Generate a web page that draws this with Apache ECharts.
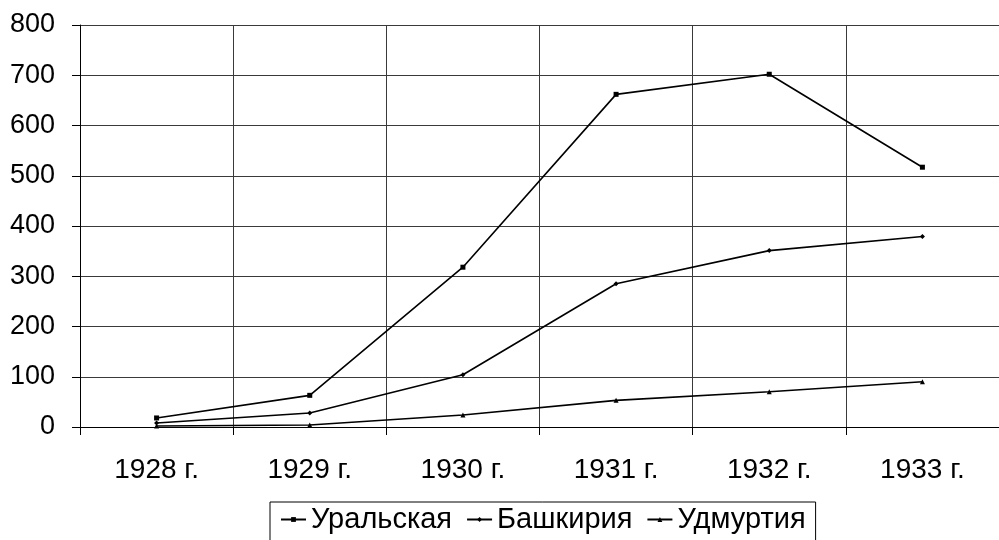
<!DOCTYPE html>
<html><head><meta charset="utf-8">
<script src="https://cdn.jsdelivr.net/npm/echarts@6/dist/echarts.min.js"></script>
<style>html,body{margin:0;padding:0;background:#fff}#c{width:999px;height:540px}</style>
</head><body><div id="c"></div>
<script>
const categories = ['1928 г.', '1929 г.', '1930 г.', '1931 г.', '1932 г.', '1933 г.'];
const uralskaya = [18, 63, 318, 662, 702, 517];
const bashkiria = [8, 28, 104, 285, 351, 379];
const udmurtia = [2, 4, 24, 53, 70, 90];
const seriesNames = ['Уральская', 'Башкирия', 'Удмуртия'];
const yMin = 0, yMax = 800, yStep = 100;

const font = '"Liberation Sans", Arial, sans-serif';
const chart = echarts.init(document.getElementById('c'));
function mk(name, data, sym) {
  return {
    name: name, type: 'line', data: data,
    symbol: sym, symbolSize: 5,
    lineStyle: { color: '#000', width: 1.6 },
    itemStyle: { color: '#000' },
    animation: false
  };
}
chart.setOption({
  animation: false,
  backgroundColor: '#fff',
  grid: { left: 80, top: 25, width: 927, height: 402, containLabel: false },
  xAxis: {
    type: 'category', data: categories, boundaryGap: true,
    axisLine: { lineStyle: { color: '#000', width: 1 } },
    axisTick: { show: true, length: 8, lineStyle: { color: '#000' } },
    axisLabel: { color: '#000', fontSize: 28, fontFamily: font, margin: 29 },
    splitLine: { show: true, lineStyle: { color: '#3a3a3a', width: 1 } }
  },
  yAxis: {
    type: 'value', min: yMin, max: yMax, interval: yStep,
    axisLine: { show: true, lineStyle: { color: '#000', width: 1 } },
    axisTick: { show: true, length: 8, lineStyle: { color: '#000' } },
    axisLabel: { color: '#000', fontSize: 27, fontFamily: font, margin: 25 },
    splitLine: { show: true, lineStyle: { color: '#3a3a3a', width: 1 } }
  },
  legend: {
    data: seriesNames, left: 270, top: 502,
    borderColor: '#000', borderWidth: 1, padding: [3, 10, 12, 10],
    itemWidth: 25, itemHeight: 6, itemGap: 14,
    textStyle: { color: '#000', fontSize: 29, fontFamily: font, padding: [0, 0, 0, 0] }
  },
  series: [
    mk(seriesNames[0], uralskaya, 'rect'),
    mk(seriesNames[1], bashkiria, 'diamond'),
    mk(seriesNames[2], udmurtia, 'triangle')
  ]
});
</script></body></html>
